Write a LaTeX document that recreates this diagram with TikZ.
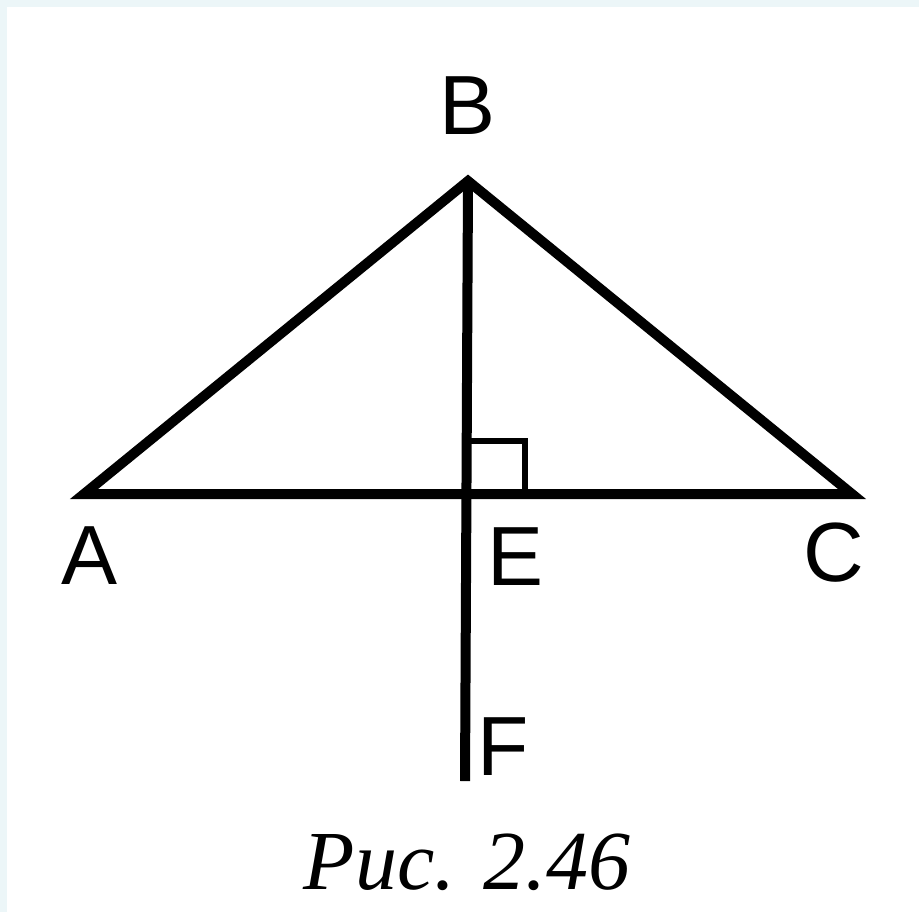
\documentclass[tikz,border=0pt]{standalone}
\usepackage{fontspec}
\setmainfont{Liberation Serif}
\newfontfamily\labelfont{Liberation Sans}
\usetikzlibrary{positioning, calc}

\definecolor{framebg}{RGB}{236,246,248}

\begin{document}
\begin{tikzpicture}[
    x=0.5pt, y=-0.5pt,
    side/.style={line width=5pt, line join=miter, line cap=butt},
    anglemark/.style={line width=3pt},
    lbl/.style={font=\labelfont\fontsize{42}{42}\selectfont, inner sep=0pt},
    capt/.style={font=\itshape\fontsize{42}{42}\selectfont, inner sep=0pt},
]

    %==================== frame ====================
    \fill[framebg] (0,0) rectangle (919,912);
    \fill[white] (7,7) rectangle (919,912);
    \useasboundingbox (0,0) rectangle (919,912);

    %==================== points ====================
    \coordinate (A) at (84,494);
    \coordinate (B) at (468,181);
    \coordinate (C) at (852,494);
    \coordinate (E) at (467,494);
    \coordinate (F) at (465,781);

    %==================== triangle ====================
    \draw[side] (A) -- (B) -- (C) -- cycle;
    \draw[side] (B) -- (F);

    %==================== right angle ====================
    \draw[anglemark] ($(E)+(0,-53)$) -- ($(E)+(58,-53)$) -- ($(E)+(58,0)$);

    %==================== labels ====================
    \node[lbl] (lB) at (468,106) {B};
    \node[lbl] (lA) at (90,556) {A};
    \node[lbl] (lE) at (516,557) {E};
    \node[lbl] (lC) at (834,553) {C};
    \node[lbl] (lF) at (503,747) {F};

    \node[capt] (cap) at (467,862) {Рис. 2.46};

\end{tikzpicture}
\end{document}
